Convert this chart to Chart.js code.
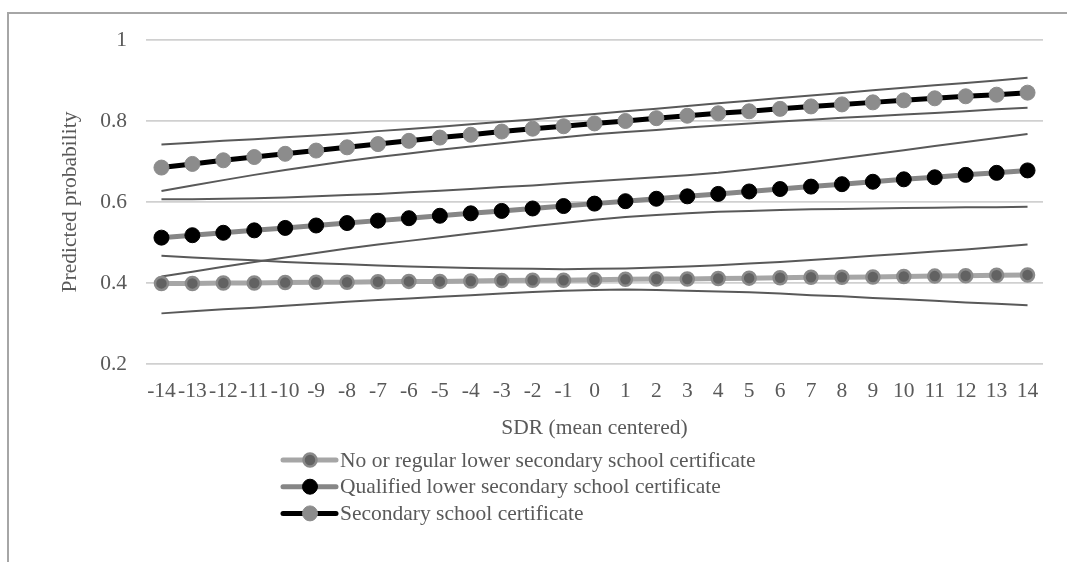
<!DOCTYPE html>
<html>
<head>
<meta charset="utf-8">
<script src="https://cdn.jsdelivr.net/npm/chart.js@4"></script>
<style>
  html, body { margin: 0; padding: 0; background: #fff; overflow: hidden; }
  #frame { position: absolute; left: 7px; top: 12px; width: 1200px; height: 700px; border: 2px solid #a6a6a6; }
  #wrap { position: absolute; left: 0; top: 0; width: 1067px; height: 562px; }
</style>
</head>
<body>
<div id="frame"></div>
<div id="wrap"><canvas id="chart"></canvas></div>
<script>
// SDR values on the x axis
const sdrLabels = ['-14','-13','-12','-11','-10','-9','-8','-7','-6','-5','-4','-3','-2','-1','0',
  '1','2','3','4','5','6','7','8','9','10','11','12','13','14'];

// predicted probabilities
const noCert = [.399,.399,.400,.400,.401,.402,.402,.403,.404,.404,.405,.406,.407,.407,.408,
  .409,.410,.410,.411,.412,.413,.414,.414,.415,.416,.417,.418,.419,.420];
const qualified = [.512,.518,.524,.530,.536,.542,.548,.554,.560,.566,.572,.578,.584,.590,.596,
  .602,.608,.614,.620,.626,.632,.638,.644,.650,.656,.661,.667,.672,.678];
const secondary = [.685,.694,.703,.711,.719,.727,.735,.743,.751,.759,.766,.774,.781,.787,.794,
  .800,.807,.813,.819,.824,.830,.836,.841,.846,.851,.856,.861,.865,.870];

// confidence bounds (thin lines)
const noCertUpper = [.467,.463,.459,.456,.452,.449,.446,.443,.441,.439,.437,.436,.435,.434,.435,
  .436,.438,.441,.444,.448,.452,.457,.462,.467,.472,.478,.483,.489,.495];
const noCertLower = [.325,.330,.335,.339,.344,.349,.354,.358,.362,.366,.370,.374,.378,.381,.383,
  .384,.383,.381,.379,.377,.374,.370,.367,.363,.360,.356,.352,.349,.345];
const qualUpper = [.607,.607,.608,.609,.611,.614,.617,.620,.624,.628,.632,.637,.641,.646,.651,
  .656,.661,.666,.672,.680,.689,.698,.708,.718,.728,.738,.748,.758,.768];
const qualLower = [.416,.428,.440,.452,.463,.474,.485,.495,.504,.513,.522,.531,.540,.548,.556,
  .563,.568,.572,.576,.578,.580,.582,.583,.584,.585,.586,.587,.587,.588];
const secUpper = [.742,.746,.751,.755,.760,.764,.769,.775,.780,.786,.792,.798,.804,.811,.817,
  .824,.830,.837,.844,.850,.857,.863,.869,.876,.882,.888,.894,.900,.907];
const secLower = [.627,.641,.654,.667,.679,.690,.701,.711,.720,.729,.737,.745,.753,.760,.767,
  .773,.778,.784,.789,.794,.799,.803,.808,.812,.816,.820,.824,.829,.833];

const seriesNames = ['No or regular lower secondary school certificate',
  'Qualified lower secondary school certificate', 'Secondary school certificate'];

const FONT = '"Liberation Serif", "Times New Roman", serif';
const TEXT = '#595959';

function boundLine(data) {
  return { data, borderColor: '#595959', borderWidth: 2, pointRadius: 0, pointHoverRadius: 0,
    fill: false, tension: 0, isBound: true };
}

// legend stacked one entry per row, left aligned
const stackedLegend = {
  id: 'stackedLegend',
  afterDraw(chart, args, opts) {
    const ctx = chart.ctx;
    ctx.save();
    ctx.font = '21.5px ' + FONT;
    ctx.textBaseline = 'middle';
    ctx.fillStyle = TEXT;
    chart.data.datasets.filter(d => !d.isBound).forEach((d, i) => {
      const y = opts.top + i * opts.rowHeight;
      ctx.beginPath();
      ctx.lineCap = 'round';
      ctx.strokeStyle = d.borderColor;
      ctx.lineWidth = d.borderWidth;
      ctx.moveTo(opts.left, y);
      ctx.lineTo(opts.left + 53, y);
      ctx.stroke();
      ctx.beginPath();
      ctx.arc(opts.left + 27, y, d.pointRadius, 0, Math.PI * 2);
      ctx.fillStyle = d.pointBackgroundColor;
      ctx.fill();
      ctx.lineWidth = d.pointBorderWidth;
      ctx.strokeStyle = d.pointBorderColor;
      ctx.stroke();
      ctx.fillStyle = TEXT;
      ctx.fillText(d.label, opts.left + 57, y + 1);
    });
    ctx.restore();
  }
};

new Chart(document.getElementById('chart'), {
  type: 'line',
  data: {
    labels: sdrLabels,
    datasets: [
      { label: seriesNames[0], data: noCert, borderColor: '#a6a6a6', borderWidth: 5,
        pointRadius: 6.5, pointBackgroundColor: '#626262', pointBorderColor: '#8a8a8a', pointBorderWidth: 2.5, tension: 0 },
      { label: seriesNames[1], data: qualified, borderColor: '#868686', borderWidth: 5,
        pointRadius: 7.5, pointBackgroundColor: '#000', pointBorderColor: '#000', pointBorderWidth: 1, tension: 0 },
      { label: seriesNames[2], data: secondary, borderColor: '#000', borderWidth: 5,
        pointRadius: 7.5, pointBackgroundColor: '#8c8c8c', pointBorderColor: '#8c8c8c', pointBorderWidth: 1, tension: 0 },
      boundLine(noCertUpper), boundLine(noCertLower),
      boundLine(qualUpper), boundLine(qualLower),
      boundLine(secUpper), boundLine(secLower),
    ],
  },
  options: {
    responsive: true, maintainAspectRatio: false, animation: false,
    layout: { padding: { left: 10, top: 40, right: 24, bottom: 108 } },
    plugins: {
      legend: { display: false },
      tooltip: { enabled: false },
      stackedLegend: { left: 283, top: 460, rowHeight: 26.7 },
    },
    scales: {
      x: {
        offset: true,
        grid: { display: false, offset: true },
        border: { display: false },
        ticks: { color: TEXT, font: { family: FONT, size: 21.5 }, autoSkip: false, maxRotation: 0, minRotation: 0, padding: 6 },
        title: { display: true, text: 'SDR (mean centered)', color: TEXT, font: { family: FONT, size: 21.5 }, padding: { top: 0, bottom: 13 } },
        afterFit: (s) => { s.height = 90; },
      },
      y: {
        min: 0.2, max: 1,
        grid: { color: '#d0d0d0', lineWidth: 1.8, drawTicks: false },
        border: { display: false },
        ticks: { stepSize: 0.2, color: TEXT, font: { family: FONT, size: 21.5 }, padding: 19,
          callback: (v) => String(Math.round(v * 10) / 10) },
        title: { display: true, text: 'Predicted probability', color: TEXT, font: { family: FONT, size: 21.5 }, padding: { top: 47, bottom: 0 } },
        afterFit: (s) => { s.width = 136; },
      },
    },
  },
  plugins: [stackedLegend],
});
</script>
</body>
</html>
